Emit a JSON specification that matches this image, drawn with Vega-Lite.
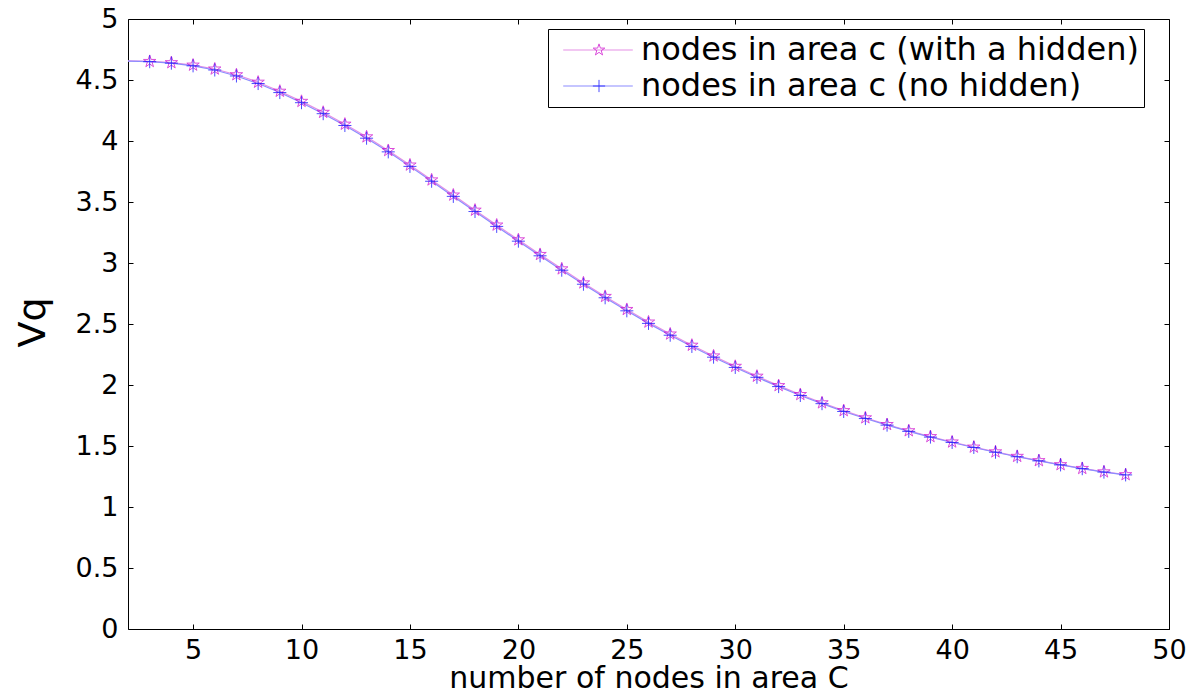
{
  "$schema": "https://vega.github.io/schema/vega-lite/v6.json",
  "width": 1041,
  "height": 610,
  "autosize": {"type": "none"},
  "padding": {"left": 128, "top": 19, "right": 29, "bottom": 67},
  "background": "white",
  "config": {
    "view": {"stroke": "black", "strokeWidth": 1},
    "font": "DejaVu Sans",
    "axis": {
      "domain": false,
      "grid": false,
      "tickColor": "black",
      "tickWidth": 1,
      "labelFont": "DejaVu Sans",
      "labelFontSize": 27,
      "labelColor": "black",
      "titleFont": "DejaVu Sans",
      "titleFontWeight": "normal",
      "titleColor": "black"
    }
  },
  "data": {
    "values": [
      {"n": 2, "vq": 4.656, "series": "nodes in area c (with a hidden)"},
      {"n": 3, "vq": 4.652, "series": "nodes in area c (with a hidden)"},
      {"n": 4, "vq": 4.642, "series": "nodes in area c (with a hidden)"},
      {"n": 5, "vq": 4.622, "series": "nodes in area c (with a hidden)"},
      {"n": 6, "vq": 4.590, "series": "nodes in area c (with a hidden)"},
      {"n": 7, "vq": 4.543, "series": "nodes in area c (with a hidden)"},
      {"n": 8, "vq": 4.482, "series": "nodes in area c (with a hidden)"},
      {"n": 9, "vq": 4.408, "series": "nodes in area c (with a hidden)"},
      {"n": 10, "vq": 4.325, "series": "nodes in area c (with a hidden)"},
      {"n": 11, "vq": 4.235, "series": "nodes in area c (with a hidden)"},
      {"n": 12, "vq": 4.138, "series": "nodes in area c (with a hidden)"},
      {"n": 13, "vq": 4.034, "series": "nodes in area c (with a hidden)"},
      {"n": 14, "vq": 3.922, "series": "nodes in area c (with a hidden)"},
      {"n": 15, "vq": 3.803, "series": "nodes in area c (with a hidden)"},
      {"n": 16, "vq": 3.681, "series": "nodes in area c (with a hidden)"},
      {"n": 17, "vq": 3.557, "series": "nodes in area c (with a hidden)"},
      {"n": 18, "vq": 3.433, "series": "nodes in area c (with a hidden)"},
      {"n": 19, "vq": 3.311, "series": "nodes in area c (with a hidden)"},
      {"n": 20, "vq": 3.190, "series": "nodes in area c (with a hidden)"},
      {"n": 21, "vq": 3.070, "series": "nodes in area c (with a hidden)"},
      {"n": 22, "vq": 2.952, "series": "nodes in area c (with a hidden)"},
      {"n": 23, "vq": 2.837, "series": "nodes in area c (with a hidden)"},
      {"n": 24, "vq": 2.726, "series": "nodes in area c (with a hidden)"},
      {"n": 25, "vq": 2.619, "series": "nodes in area c (with a hidden)"},
      {"n": 26, "vq": 2.516, "series": "nodes in area c (with a hidden)"},
      {"n": 27, "vq": 2.418, "series": "nodes in area c (with a hidden)"},
      {"n": 28, "vq": 2.326, "series": "nodes in area c (with a hidden)"},
      {"n": 29, "vq": 2.238, "series": "nodes in area c (with a hidden)"},
      {"n": 30, "vq": 2.153, "series": "nodes in area c (with a hidden)"},
      {"n": 31, "vq": 2.072, "series": "nodes in area c (with a hidden)"},
      {"n": 32, "vq": 1.995, "series": "nodes in area c (with a hidden)"},
      {"n": 33, "vq": 1.922, "series": "nodes in area c (with a hidden)"},
      {"n": 34, "vq": 1.854, "series": "nodes in area c (with a hidden)"},
      {"n": 35, "vq": 1.790, "series": "nodes in area c (with a hidden)"},
      {"n": 36, "vq": 1.731, "series": "nodes in area c (with a hidden)"},
      {"n": 37, "vq": 1.676, "series": "nodes in area c (with a hidden)"},
      {"n": 38, "vq": 1.625, "series": "nodes in area c (with a hidden)"},
      {"n": 39, "vq": 1.577, "series": "nodes in area c (with a hidden)"},
      {"n": 40, "vq": 1.533, "series": "nodes in area c (with a hidden)"},
      {"n": 41, "vq": 1.491, "series": "nodes in area c (with a hidden)"},
      {"n": 42, "vq": 1.452, "series": "nodes in area c (with a hidden)"},
      {"n": 43, "vq": 1.415, "series": "nodes in area c (with a hidden)"},
      {"n": 44, "vq": 1.380, "series": "nodes in area c (with a hidden)"},
      {"n": 45, "vq": 1.347, "series": "nodes in area c (with a hidden)"},
      {"n": 46, "vq": 1.316, "series": "nodes in area c (with a hidden)"},
      {"n": 47, "vq": 1.288, "series": "nodes in area c (with a hidden)"},
      {"n": 48, "vq": 1.265, "series": "nodes in area c (with a hidden)"},
      {"n": 2, "vq": 4.655, "series": "nodes in area c (no hidden)"},
      {"n": 3, "vq": 4.650, "series": "nodes in area c (no hidden)"},
      {"n": 4, "vq": 4.638, "series": "nodes in area c (no hidden)"},
      {"n": 5, "vq": 4.616, "series": "nodes in area c (no hidden)"},
      {"n": 6, "vq": 4.582, "series": "nodes in area c (no hidden)"},
      {"n": 7, "vq": 4.533, "series": "nodes in area c (no hidden)"},
      {"n": 8, "vq": 4.471, "series": "nodes in area c (no hidden)"},
      {"n": 9, "vq": 4.397, "series": "nodes in area c (no hidden)"},
      {"n": 10, "vq": 4.314, "series": "nodes in area c (no hidden)"},
      {"n": 11, "vq": 4.224, "series": "nodes in area c (no hidden)"},
      {"n": 12, "vq": 4.127, "series": "nodes in area c (no hidden)"},
      {"n": 13, "vq": 4.023, "series": "nodes in area c (no hidden)"},
      {"n": 14, "vq": 3.911, "series": "nodes in area c (no hidden)"},
      {"n": 15, "vq": 3.792, "series": "nodes in area c (no hidden)"},
      {"n": 16, "vq": 3.670, "series": "nodes in area c (no hidden)"},
      {"n": 17, "vq": 3.546, "series": "nodes in area c (no hidden)"},
      {"n": 18, "vq": 3.422, "series": "nodes in area c (no hidden)"},
      {"n": 19, "vq": 3.300, "series": "nodes in area c (no hidden)"},
      {"n": 20, "vq": 3.179, "series": "nodes in area c (no hidden)"},
      {"n": 21, "vq": 3.059, "series": "nodes in area c (no hidden)"},
      {"n": 22, "vq": 2.941, "series": "nodes in area c (no hidden)"},
      {"n": 23, "vq": 2.826, "series": "nodes in area c (no hidden)"},
      {"n": 24, "vq": 2.715, "series": "nodes in area c (no hidden)"},
      {"n": 25, "vq": 2.608, "series": "nodes in area c (no hidden)"},
      {"n": 26, "vq": 2.505, "series": "nodes in area c (no hidden)"},
      {"n": 27, "vq": 2.408, "series": "nodes in area c (no hidden)"},
      {"n": 28, "vq": 2.316, "series": "nodes in area c (no hidden)"},
      {"n": 29, "vq": 2.228, "series": "nodes in area c (no hidden)"},
      {"n": 30, "vq": 2.144, "series": "nodes in area c (no hidden)"},
      {"n": 31, "vq": 2.063, "series": "nodes in area c (no hidden)"},
      {"n": 32, "vq": 1.987, "series": "nodes in area c (no hidden)"},
      {"n": 33, "vq": 1.914, "series": "nodes in area c (no hidden)"},
      {"n": 34, "vq": 1.847, "series": "nodes in area c (no hidden)"},
      {"n": 35, "vq": 1.783, "series": "nodes in area c (no hidden)"},
      {"n": 36, "vq": 1.725, "series": "nodes in area c (no hidden)"},
      {"n": 37, "vq": 1.671, "series": "nodes in area c (no hidden)"},
      {"n": 38, "vq": 1.620, "series": "nodes in area c (no hidden)"},
      {"n": 39, "vq": 1.573, "series": "nodes in area c (no hidden)"},
      {"n": 40, "vq": 1.529, "series": "nodes in area c (no hidden)"},
      {"n": 41, "vq": 1.488, "series": "nodes in area c (no hidden)"},
      {"n": 42, "vq": 1.449, "series": "nodes in area c (no hidden)"},
      {"n": 43, "vq": 1.412, "series": "nodes in area c (no hidden)"},
      {"n": 44, "vq": 1.378, "series": "nodes in area c (no hidden)"},
      {"n": 45, "vq": 1.345, "series": "nodes in area c (no hidden)"},
      {"n": 46, "vq": 1.314, "series": "nodes in area c (no hidden)"},
      {"n": 47, "vq": 1.286, "series": "nodes in area c (no hidden)"},
      {"n": 48, "vq": 1.263, "series": "nodes in area c (no hidden)"}
    ]
  },
  "layer": [
    {
      "mark": {"type": "line", "strokeWidth": 1.2, "clip": true},
      "encoding": {
        "x": {
          "field": "n",
          "type": "quantitative",
          "scale": {"domain": [2, 50], "nice": false, "zero": false},
          "axis": {
            "orient": "bottom",
            "values": [5, 10, 15, 20, 25, 30, 35, 40, 45, 50],
            "tickSize": -5,
            "labelPadding": 13,
            "labelFlush": false,
            "title": "number of nodes in area C",
            "titleFontSize": 30,
            "titleY": 58,
            "titleBaseline": "alphabetic"
          }
        },
        "y": {
          "field": "vq",
          "type": "quantitative",
          "scale": {"domain": [0, 5], "nice": false, "zero": true},
          "axis": {
            "orient": "left",
            "values": [0, 0.5, 1, 1.5, 2, 2.5, 3, 3.5, 4, 4.5, 5],
            "format": "~g",
            "tickSize": -5,
            "labelPadding": 15,
            "labelFlush": false,
            "title": "Vq",
            "titleFontSize": 38,
            "titleX": -95,
            "titleY": 303,
            "titleBaseline": "middle"
          }
        },
        "stroke": {
          "field": "series",
          "type": "nominal",
          "sort": ["nodes in area c (with a hidden)", "nodes in area c (no hidden)"],
          "scale": {"range": ["#e58fe5", "#8c8cff"]},
          "legend": {
            "title": null,
            "orient": "none",
            "legendX": 420,
            "legendY": 10,
            "padding": 5,
            "rowPadding": 4,
            "symbolType": "M-2.9,0H2.9",
            "symbolSize": 576,
            "symbolStrokeWidth": 1.2,
            "symbolOffset": 29,
            "labelOffset": 27,
            "labelLimit": 0,
            "labelFont": "DejaVu Sans",
            "labelFontSize": 32,
            "labelColor": "black",
            "strokeColor": "black"
          }
        }
      }
    },
    {
      "transform": [{"filter": {"field": "n", "gte": 3}}],
      "mark": {"type": "point", "filled": false, "strokeWidth": 1, "size": 170, "clip": true},
      "encoding": {
        "x": {
          "field": "n",
          "type": "quantitative",
          "scale": {"domain": [2, 50], "nice": false, "zero": false},
          "axis": {
            "orient": "top",
            "values": [5, 10, 15, 20, 25, 30, 35, 40, 45],
            "tickSize": -5,
            "labels": false,
            "title": null
          }
        },
        "y": {
          "field": "vq",
          "type": "quantitative",
          "scale": {"domain": [0, 5], "nice": false, "zero": true},
          "axis": {
            "orient": "right",
            "values": [0, 0.5, 1, 1.5, 2, 2.5, 3, 3.5, 4, 4.5, 5],
            "tickSize": -5,
            "labels": false,
            "title": null
          }
        },
        "color": {
          "field": "series",
          "type": "nominal",
          "scale": {
            "domain": ["nodes in area c (with a hidden)", "nodes in area c (no hidden)"],
            "range": ["#cc00cc", "#0000ff"]
          },
          "legend": {
            "title": null,
            "orient": "none",
            "legendX": 420,
            "legendY": 10,
            "padding": 5,
            "rowPadding": 4,
            "symbolSize": 150,
            "symbolStrokeWidth": 1,
            "symbolOffset": 30,
            "labelLimit": 0,
            "labelFont": "DejaVu Sans",
            "labelFontSize": 32,
            "labelOpacity": 0
          }
        },
        "shape": {
          "field": "series",
          "type": "nominal",
          "scale": {
            "domain": ["nodes in area c (with a hidden)", "nodes in area c (no hidden)"],
            "range": [
              "M0,-1L0.225,-0.309L0.951,-0.309L0.363,0.118L0.588,0.809L0,0.382L-0.588,0.809L-0.363,0.118L-0.951,-0.309L-0.225,-0.309Z",
              "M-1,0H1M0,-1V1"
            ]
          },
          "legend": {
            "title": null,
            "orient": "none",
            "legendX": 420,
            "legendY": 10,
            "padding": 5,
            "rowPadding": 4,
            "symbolSize": 150,
            "symbolStrokeWidth": 1,
            "symbolOffset": 30,
            "labelLimit": 0,
            "labelFont": "DejaVu Sans",
            "labelFontSize": 32,
            "labelOpacity": 0
          }
        }
      }
    }
  ],
  "resolve": {"axis": {"x": "independent", "y": "independent"}}
}
